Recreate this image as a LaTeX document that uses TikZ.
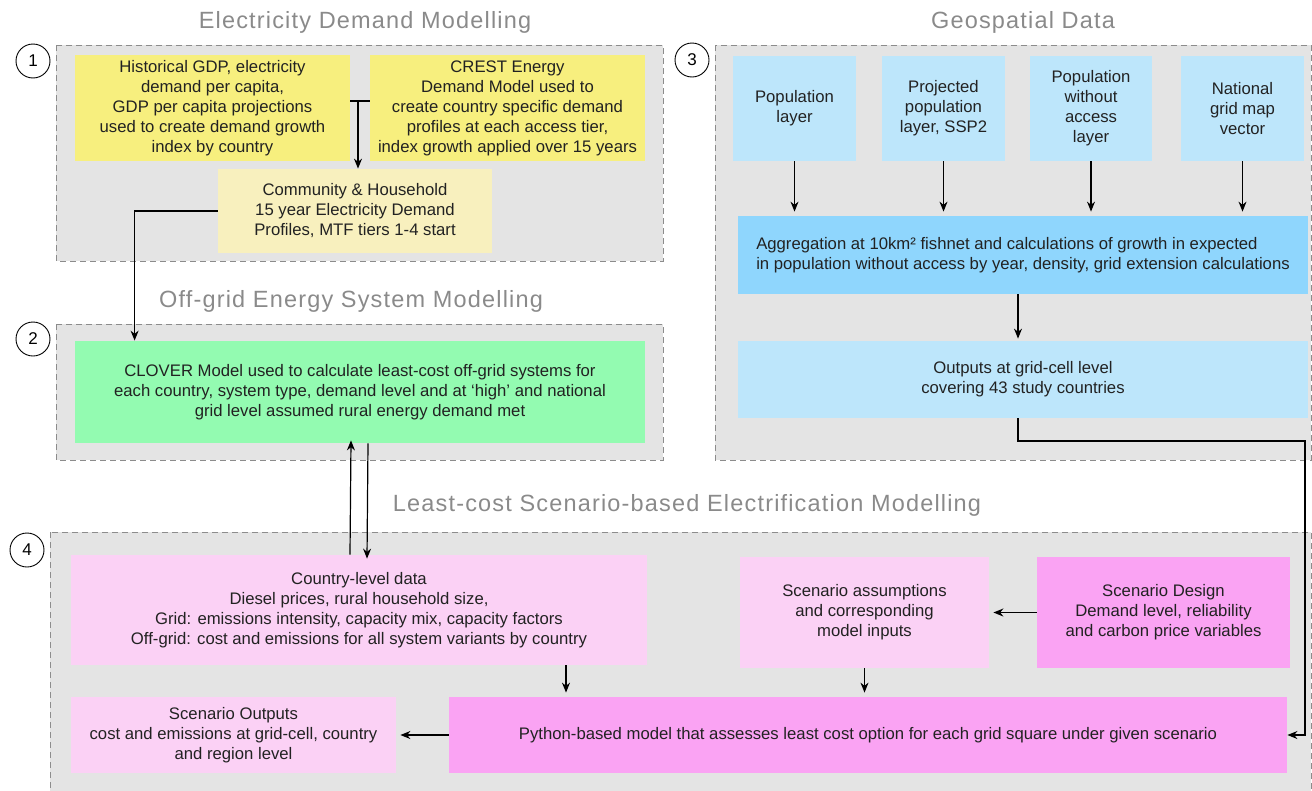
\documentclass[tikz,border=0pt]{standalone}
\usepackage{fontspec}
\setmainfont{Liberation Sans}
\newfontfamily\headfont[LetterSpace=5]{Liberation Sans}
\usetikzlibrary{arrows.meta, positioning}

\definecolor{panelgrey}{HTML}{E4E4E4}
\definecolor{dashgrey}{HTML}{8C8C8C}
\definecolor{headgrey}{HTML}{8A8A8A}
\definecolor{textblack}{HTML}{222222}
\definecolor{yellowbox}{HTML}{F7EF7E}
\definecolor{paleyellow}{HTML}{F8F0BE}
\definecolor{greenbox}{HTML}{93FBB1}
\definecolor{lightblue}{HTML}{BDE6FB}
\definecolor{bluebox}{HTML}{8FD6FD}
\definecolor{lightpink}{HTML}{FBD1F5}
\definecolor{pinkbox}{HTML}{FAA3F3}

\begin{document}
\begin{tikzpicture}[x=1pt,y=-1pt,
 thick,>={Stealth[length=10pt,width=8pt]},
 panel/.style={draw=dashgrey, fill=panelgrey, dash pattern=on 6pt off 4pt, line width=1pt},
 head/.style={font=\headfont\fontsize{23.5}{27}\selectfont, text=headgrey},
 num node/.style={circle, draw, fill=white, minimum size=34pt, inner sep=0pt, line width=0.9pt, font=\fontsize{17}{20}\selectfont},
 box/.style={inner sep=2pt, align=center, text=textblack, font=\fontsize{16.7}{20}\selectfont},
 link/.style={line width=1.2pt}]
  \clip (0,0) rectangle (1312,790);

  % panels
  \draw[panel] (56,45) rectangle (663,261);
  \draw[panel] (56,324) rectangle (663,460);
  \draw[panel] (715,45) rectangle (1311,460);
  \draw[panel] (50,532) rectangle (1311,800);

  \node[head] (t1) at (365,22) {Electricity Demand Modelling};
  \node[head] (t2) at (351,301) {Off-grid Energy System Modelling};
  \node[head] (t3) at (1023,22) {Geospatial Data};
  \node[head] (t4) at (687,505) {Least-cost Scenario-based Electrification Modelling};

  \node[num node] (n1) at (33,61) {1};
  \node[num node] (n2) at (33,339) {2};
  \node[num node] (n3) at (692,60) {3};
  \node[num node] (n4) at (27,550) {4};

  % electricity demand
  \node[box, fill=yellowbox, minimum width=275pt, minimum height=106pt] (hist) at (212.5,108)
    {Historical GDP, electricity\\demand per capita,\\GDP per capita projections\\used to create demand growth\\index by country};
  \node[box, fill=yellowbox, minimum width=275pt, minimum height=106pt] (crest) at (507.5,108)
    {CREST Energy\\Demand Model used to\\create country specific demand\\profiles at each access tier,\\index growth applied over 15 years};
  \node[box, fill=paleyellow, minimum width=274pt, minimum height=84pt] (comm) at (355,211)
    {Community \& Household\\15 year Electricity Demand\\Profiles, MTF tiers 1-4 start};

  % off-grid
  \node[box, fill=greenbox, minimum width=570pt, minimum height=102pt] (clover) at (360,392)
    {CLOVER Model used to calculate least-cost off-grid systems for\\each country, system type, demand level and at `high' and national\\grid level assumed rural energy demand met};

  % geospatial
  \node[box, fill=lightblue, minimum width=123pt, minimum height=105pt] (pop) at (794.5,108.5) {Population\\layer};
  \node[box, fill=lightblue, minimum width=123pt, minimum height=105pt] (proj) at (943.5,108.5) {Projected\\population\\layer, SSP2};
  \node[box, fill=lightblue, minimum width=122pt, minimum height=105pt] (noacc) at (1091,108.5) {Population\\without\\access\\layer};
  \node[box, fill=lightblue, minimum width=123pt, minimum height=105pt] (natgrid) at (1242.5,108.5) {National\\grid map\\vector};
  \node[box, fill=bluebox, align=left, minimum width=570pt, minimum height=78pt] (agg) at (1023,255)
    {Aggregation at 10km² fishnet and calculations of growth in expected\\in population without access by year, density, grid extension calculations};
  \node[box, fill=lightblue, minimum width=570pt, minimum height=77pt] (outputs) at (1023,379.5)
    {Outputs at grid-cell level\\covering 43 study countries};

  % electrification
  \node[box, fill=lightpink, minimum width=576pt, minimum height=110pt] (country) at (359,610)
    {Country-level data\\Diesel prices, rural household size,\\Grid: emissions intensity, capacity mix, capacity factors\\Off-grid: cost and emissions for all system variants by country};
  \node[box, fill=lightpink, minimum width=249pt, minimum height=111pt] (assump) at (864.5,612.5)
    {Scenario assumptions\\and corresponding\\model inputs};
  \node[box, fill=pinkbox, minimum width=253pt, minimum height=111pt] (design) at (1163.5,612.5)
    {Scenario Design\\Demand level, reliability\\and carbon price variables};
  \node[box, fill=pinkbox, minimum width=838pt, minimum height=76pt] (python) at (868,735)
    {Python-based model that assesses least cost option for each grid square under given scenario};
  \node[box, fill=lightpink, minimum width=325pt, minimum height=76pt] (outs) at (233.5,735)
    {Scenario Outputs\\cost and emissions at grid-cell, country\\and region level};

  \coordinate (join) at (358,101);
  \coordinate (bend) at (1305,441);

  % connectors
  \draw[link] (hist.east |- join) -- (crest.west |- join);
  \draw[link,->] (join) -- (join |- comm.north);
  \draw[link,->] (comm.west) -| ([xshift=60pt]clover.north west);
  \draw[link,->] ([xshift=-9pt]country.north) -- ([xshift=-9pt,yshift=3pt]clover.south);
  \draw[link,->] ([xshift=8pt]clover.south) -- ([xshift=8pt,yshift=-4pt]country.north);
  \foreach \s in {pop,proj,noacc,natgrid} {
   \draw[link,->,shorten >=4pt] (\s.south) -- (\s.south |- agg.north);}
  \draw[link,->,shorten >=2pt] ([xshift=-5pt]agg.south) -- ([xshift=-5pt]outputs.north);
  \draw[link,->] ([xshift=-5pt]outputs.south) |- (bend) |- (python.east);
  \draw[link,->,shorten >=4pt] (design.west) -- (assump.east);
  \draw[link,->,shorten >=4pt] ([xshift=-302pt]python.north |- country.south) -- ([xshift=-302pt]python.north);
  \draw[link,->,shorten >=4pt] (assump.south) -- (assump.south |- python.north);
  \draw[link,->,shorten >=4pt] (python.west) -- (outs.east);
\end{tikzpicture}
\end{document}
